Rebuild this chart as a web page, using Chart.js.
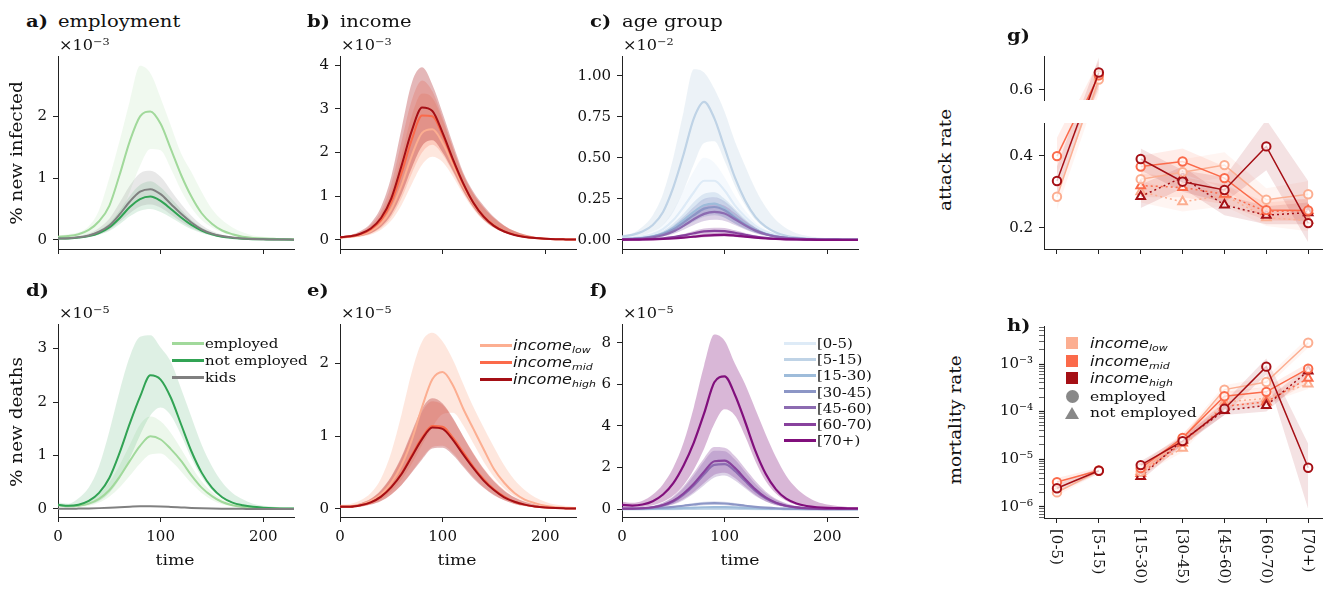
<!DOCTYPE html>
<html>
<head>
<meta charset="utf-8">
<script src="https://cdn.jsdelivr.net/npm/chart.js@4.4.0/dist/chart.umd.min.js"></script>
<style>
  body { margin: 0; width: 1325px; height: 589px; overflow: hidden; position: relative; background: #fff;
         font-family: 'DejaVu Serif', serif; color: #111; }
  canvas { position: absolute; }
  .t { position: absolute; white-space: nowrap; line-height: 1; }
  sup { font-size: 0.7em; vertical-align: 0.55em; line-height: 0; }
  sub { font-size: 0.68em; vertical-align: -0.3em; line-height: 0; }
  .sans { font-family: 'DejaVu Sans', sans-serif; font-style: italic; }
</style>
</head>
<body>
<script>
// ---- data ----
const TIME = [0,10,20,30,40,50,60,70,80,90,100,110,120,130,140,150,160,170,180,190,200,210,220,230];

// a) new infected by employment, x1e-3
const A_EMP     = [0.05,0.06,0.09,0.16,0.30,0.55, 1.05,1.60,2.00,2.08,1.88,1.47, 1.05,0.70,0.43,0.26,0.15,0.09, 0.05,0.03,0.02,0.015,0.01,0.01];
const A_EMP_HI  = [0.07,0.09,0.12,0.22,0.48,1.00, 1.60,2.25,2.82,2.70,2.30,1.85, 1.40,1.10,0.78,0.50,0.32,0.20, 0.12,0.07,0.05,0.03,0.02,0.015];
const A_EMP_LO  = [0.02,0.02,0.03,0.05,0.09,0.18, 0.37,0.78,1.20,1.47,1.45,1.15, 0.80,0.52,0.32,0.20,0.12,0.07, 0.05,0.03,0.02,0.01,0.01,0.005];
const A_NEMP    = [0.02,0.02,0.035,0.06,0.11,0.20, 0.35,0.53,0.66,0.70,0.63,0.50, 0.36,0.24,0.15,0.09,0.05,0.03, 0.018,0.01,0.007,0.004,0.003,0.002];
const A_NEMP_HI = [0.03,0.03,0.05,0.08,0.15,0.27, 0.47,0.71,0.89,0.95,0.85,0.68, 0.49,0.32,0.20,0.12,0.07,0.04, 0.025,0.014,0.009,0.005,0.004,0.003];
const A_NEMP_LO = [0.01,0.015,0.025,0.04,0.08,0.14, 0.25,0.38,0.47,0.50,0.45,0.36, 0.26,0.17,0.11,0.065,0.036,0.02, 0.013,0.007,0.005,0.003,0.002,0.001];
const A_KID     = [0.02,0.025,0.04,0.07,0.13,0.23, 0.41,0.62,0.78,0.82,0.74,0.58, 0.42,0.28,0.17,0.10,0.06,0.035, 0.02,0.012,0.008,0.005,0.003,0.002];
const A_KID_HI  = [0.03,0.035,0.06,0.10,0.19,0.34, 0.60,0.88,1.08,1.12,1.02,0.80, 0.58,0.39,0.24,0.14,0.08,0.05, 0.03,0.02,0.01,0.007,0.005,0.003];
const A_KID_LO  = [0.01,0.015,0.025,0.045,0.09,0.16, 0.29,0.43,0.54,0.57,0.52,0.41, 0.29,0.19,0.12,0.07,0.04,0.025, 0.015,0.008,0.005,0.003,0.002,0.001];

// b) new infected by income, x1e-3
const B_LOW     = [0.05,0.07,0.11,0.20,0.37,0.70, 1.25,1.93,2.45,2.53,2.22,1.72, 1.23,0.83,0.53,0.33,0.20,0.12, 0.07,0.04,0.025,0.015,0.01,0.006];
const B_LOW_HI  = [0.07,0.09,0.16,0.30,0.58,1.10, 1.95,2.85,3.35,3.25,2.75,2.10, 1.50,1.05,0.74,0.50,0.32,0.20, 0.12,0.07,0.04,0.025,0.015,0.01];
const B_LOW_LO  = [0.03,0.04,0.07,0.12,0.23,0.44, 0.80,1.28,1.72,1.90,1.78,1.45, 1.05,0.70,0.44,0.27,0.16,0.10, 0.06,0.035,0.02,0.012,0.008,0.005];
const B_MID     = [0.06,0.08,0.13,0.24,0.45,0.86, 1.53,2.30,2.85,2.83,2.40,1.82, 1.28,0.85,0.54,0.33,0.20,0.12, 0.07,0.04,0.025,0.015,0.01,0.006];
const B_MID_HI  = [0.08,0.10,0.18,0.34,0.66,1.28, 2.25,3.20,3.65,3.40,2.80,2.12, 1.50,1.06,0.74,0.50,0.32,0.20, 0.12,0.07,0.04,0.025,0.015,0.01];
const B_MID_LO  = [0.04,0.05,0.08,0.14,0.27,0.52, 0.95,1.52,2.00,2.18,1.95,1.55, 1.10,0.73,0.46,0.28,0.17,0.10, 0.06,0.035,0.02,0.012,0.008,0.005];
const B_HIGH    = [0.06,0.08,0.14,0.26,0.50,0.95, 1.70,2.50,3.03,2.95,2.45,1.85, 1.30,0.85,0.53,0.32,0.19,0.11, 0.065,0.04,0.025,0.015,0.01,0.006];
const B_HIGH_HI = [0.08,0.11,0.20,0.38,0.75,1.45, 2.55,3.60,3.95,3.55,2.90,2.20, 1.55,1.10,0.78,0.52,0.33,0.20, 0.12,0.07,0.04,0.025,0.015,0.01];
const B_HIGH_LO = [0.04,0.05,0.08,0.15,0.30,0.58, 1.05,1.65,2.15,2.28,2.00,1.58, 1.12,0.74,0.46,0.28,0.17,0.10, 0.06,0.035,0.02,0.012,0.008,0.005];

// c) new infected by age group, x1e-2
const C0    = [0.01,0.012,0.02,0.035,0.065,0.12, 0.20,0.29,0.36,0.36,0.30,0.21, 0.14,0.085,0.05,0.03,0.017,0.01, 0.006,0.004,0.002,0.001,0.001,0];
const C0_HI = [0.015,0.018,0.03,0.05,0.095,0.18, 0.30,0.42,0.50,0.47,0.38,0.27, 0.18,0.11,0.065,0.04,0.022,0.013, 0.008,0.005,0.003,0.002,0.001,0.001];
const C0_LO = [0.005,0.008,0.012,0.022,0.04,0.075, 0.13,0.19,0.24,0.26,0.22,0.16, 0.105,0.065,0.038,0.022,0.013,0.008, 0.005,0.003,0.002,0.001,0,0];
const C1    = [0.02,0.03,0.05,0.09,0.17,0.32, 0.52,0.74,0.84,0.74,0.56,0.38, 0.24,0.14,0.08,0.045,0.025,0.014, 0.008,0.005,0.003,0.002,0.001,0.001];
const C1_HI = [0.03,0.04,0.08,0.15,0.28,0.50, 0.78,1.04,1.02,0.92,0.78,0.60, 0.45,0.31,0.20,0.12,0.07,0.04, 0.025,0.015,0.009,0.005,0.003,0.002];
const C1_LO = [0.01,0.02,0.03,0.05,0.09,0.17, 0.30,0.46,0.59,0.60,0.48,0.33, 0.21,0.12,0.07,0.04,0.02,0.012, 0.007,0.004,0.002,0.001,0.001,0];
const C2    = [0.005,0.007,0.012,0.022,0.04,0.072, 0.12,0.17,0.21,0.22,0.19,0.14, 0.095,0.06,0.036,0.021,0.012,0.007, 0.004,0.002,0.001,0.001,0,0];
const C2_HI = [0.007,0.009,0.016,0.03,0.055,0.10, 0.16,0.23,0.28,0.29,0.25,0.19, 0.13,0.08,0.048,0.028,0.016,0.009, 0.005,0.003,0.002,0.001,0.001,0];
const C2_LO = [0.004,0.005,0.009,0.016,0.029,0.052, 0.086,0.12,0.15,0.16,0.135,0.10, 0.068,0.043,0.026,0.015,0.009,0.005, 0.003,0.002,0.001,0,0,0];
const C3    = [0.004,0.006,0.01,0.019,0.035,0.063, 0.105,0.15,0.19,0.20,0.18,0.135, 0.092,0.058,0.035,0.02,0.012,0.007, 0.004,0.002,0.001,0.001,0,0];
const C3_HI = [0.006,0.008,0.014,0.026,0.048,0.086, 0.14,0.20,0.25,0.26,0.235,0.18, 0.12,0.076,0.046,0.027,0.016,0.009, 0.005,0.003,0.002,0.001,0.001,0];
const C3_LO = [0.003,0.004,0.007,0.014,0.026,0.047, 0.078,0.11,0.14,0.15,0.135,0.10, 0.069,0.043,0.026,0.015,0.009,0.005, 0.003,0.002,0.001,0,0,0];
const C4    = [0.003,0.005,0.008,0.015,0.028,0.05, 0.085,0.125,0.158,0.17,0.16,0.125, 0.088,0.056,0.034,0.02,0.012,0.007, 0.004,0.002,0.001,0.001,0,0];
const C4_HI = [0.004,0.007,0.011,0.02,0.037,0.066, 0.11,0.165,0.205,0.222,0.208,0.163, 0.115,0.073,0.044,0.026,0.016,0.009, 0.005,0.003,0.002,0.001,0.001,0];
const C4_LO = [0.002,0.004,0.006,0.011,0.02,0.036, 0.061,0.09,0.114,0.122,0.115,0.09, 0.063,0.04,0.024,0.014,0.009,0.005, 0.003,0.002,0.001,0,0,0];
const C5    = [0.001,0.002,0.003,0.005,0.009,0.016, 0.027,0.04,0.051,0.055,0.053,0.043, 0.031,0.02,0.012,0.007,0.004,0.002, 0.001,0.001,0,0,0,0];
const C5_HI = [0.001,0.002,0.004,0.007,0.012,0.022, 0.036,0.054,0.069,0.074,0.072,0.058, 0.042,0.027,0.016,0.009,0.005,0.003, 0.002,0.001,0,0,0,0];
const C5_LO = [0.001,0.001,0.002,0.004,0.006,0.011, 0.019,0.028,0.036,0.039,0.037,0.03, 0.022,0.014,0.008,0.005,0.003,0.001, 0.001,0,0,0,0,0];
const C6    = [0.001,0.001,0.002,0.003,0.005,0.008, 0.013,0.019,0.025,0.029,0.03,0.026, 0.019,0.013,0.008,0.005,0.003,0.002, 0.001,0,0,0,0,0];
const C6_HI = [0.001,0.002,0.003,0.004,0.007,0.011, 0.018,0.027,0.035,0.041,0.042,0.036, 0.027,0.018,0.011,0.007,0.004,0.003, 0.001,0,0,0,0,0];
const C6_LO = [0.001,0.001,0.001,0.002,0.003,0.005, 0.008,0.012,0.016,0.019,0.02,0.017, 0.012,0.008,0.005,0.003,0.002,0.001, 0.001,0,0,0,0,0];

// d) new deaths by employment, x1e-5
const D_EMP     = [0.07,0.05,0.06,0.10,0.19,0.35, 0.60,0.90,1.18,1.36,1.30,1.12, 0.90,0.63,0.40,0.24,0.13,0.07, 0.04,0.022,0.013,0.008,0.005,0.004];
const D_EMP_HI  = [0.10,0.08,0.10,0.16,0.28,0.50, 0.82,1.20,1.58,1.73,1.64,1.42, 1.12,0.80,0.52,0.32,0.18,0.10, 0.06,0.035,0.02,0.012,0.008,0.006];
const D_EMP_LO  = [0.05,0.03,0.04,0.06,0.12,0.23, 0.40,0.62,0.85,1.02,1.04,0.90, 0.70,0.48,0.30,0.17,0.09,0.05, 0.03,0.016,0.01,0.006,0.004,0.003];
const D_NEMP    = [0.08,0.06,0.08,0.15,0.30,0.58, 1.05,1.60,2.10,2.50,2.42,2.08, 1.58,1.08,0.68,0.40,0.22,0.12, 0.07,0.04,0.025,0.015,0.01,0.01];
const D_NEMP_HI = [0.12,0.10,0.20,0.40,0.80,1.45, 2.20,2.85,3.22,3.25,3.02,2.75, 2.25,1.72,1.20,0.80,0.50,0.30, 0.18,0.10,0.06,0.04,0.025,0.015];
const D_NEMP_LO = [0.05,0.04,0.05,0.08,0.15,0.30, 0.56,0.95,1.38,1.75,1.90,1.75, 1.38,0.95,0.60,0.35,0.20,0.11, 0.06,0.035,0.02,0.012,0.008,0.005];
const D_KID     = [0.005,0.005,0.007,0.01,0.016,0.024, 0.034,0.043,0.05,0.05,0.046,0.038, 0.029,0.02,0.013,0.008,0.005,0.003, 0.002,0.001,0.001,0,0,0];

// e) new deaths by income, x1e-5
const E_LOW     = [0.03,0.04,0.06,0.11,0.20,0.36, 0.60,0.95,1.40,1.78,1.88,1.70, 1.38,1.10,0.82,0.55,0.36,0.22, 0.13,0.08,0.045,0.025,0.015,0.01];
const E_LOW_HI  = [0.06,0.07,0.12,0.22,0.42,0.78, 1.30,1.88,2.30,2.42,2.30,2.05, 1.72,1.40,1.12,0.85,0.60,0.40, 0.26,0.16,0.10,0.06,0.04,0.025];
const E_LOW_LO  = [0.02,0.03,0.04,0.07,0.13,0.24, 0.40,0.62,0.88,1.12,1.30,1.32, 1.15,0.90,0.65,0.44,0.28,0.17, 0.10,0.06,0.035,0.02,0.013,0.008];
const E_MID     = [0.03,0.03,0.05,0.09,0.17,0.30, 0.49,0.74,0.98,1.14,1.13,0.98, 0.78,0.58,0.41,0.27,0.17,0.10, 0.06,0.035,0.02,0.012,0.008,0.005];
const E_MID_HI  = [0.05,0.05,0.08,0.14,0.25,0.44, 0.70,1.03,1.34,1.48,1.43,1.24, 1.00,0.77,0.56,0.39,0.26,0.16, 0.10,0.06,0.035,0.02,0.013,0.008];
const E_MID_LO  = [0.02,0.02,0.03,0.06,0.11,0.20, 0.33,0.51,0.70,0.85,0.87,0.77, 0.60,0.44,0.30,0.20,0.12,0.07, 0.04,0.025,0.015,0.009,0.005,0.003];
const E_HIGH    = [0.03,0.03,0.05,0.09,0.17,0.30, 0.48,0.72,0.96,1.12,1.10,0.95, 0.75,0.56,0.39,0.26,0.16,0.10, 0.06,0.035,0.02,0.012,0.008,0.005];
const E_HIGH_HI = [0.05,0.05,0.08,0.14,0.26,0.45, 0.72,1.06,1.38,1.52,1.45,1.25, 1.00,0.76,0.55,0.38,0.25,0.16, 0.10,0.06,0.035,0.02,0.013,0.008];
const E_HIGH_LO = [0.02,0.02,0.03,0.06,0.11,0.20, 0.33,0.50,0.68,0.83,0.84,0.74, 0.58,0.42,0.29,0.19,0.12,0.07, 0.04,0.025,0.015,0.009,0.005,0.003];

// f) new deaths by age group, x1e-5
const F0    = [0.001,0.001,0.001,0.002,0.002,0.003, 0.004,0.005,0.006,0.006,0.006,0.005, 0.004,0.003,0.002,0.002,0.001,0.001, 0.001,0,0,0,0,0];
const F1    = [0.002,0.002,0.003,0.004,0.006,0.008, 0.011,0.015,0.018,0.02,0.019,0.016, 0.012,0.009,0.006,0.004,0.003,0.002, 0.001,0.001,0,0,0,0];
const F2    = [0.005,0.005,0.008,0.013,0.022,0.035, 0.052,0.07,0.088,0.098,0.095,0.08, 0.06,0.042,0.027,0.017,0.01,0.006, 0.003,0.002,0.001,0.001,0,0];
const F3    = [0.01,0.01,0.02,0.04,0.07,0.11, 0.16,0.22,0.27,0.29,0.27,0.22, 0.16,0.11,0.07,0.04,0.025,0.015, 0.01,0.005,0.003,0.002,0.001,0.001];
const F3_HI = [0.015,0.015,0.03,0.055,0.09,0.14, 0.21,0.29,0.35,0.38,0.35,0.29, 0.21,0.14,0.09,0.055,0.033,0.02, 0.013,0.007,0.004,0.003,0.002,0.001];
const F3_LO = [0.007,0.007,0.014,0.028,0.05,0.077, 0.11,0.15,0.19,0.2,0.19,0.15, 0.11,0.077,0.05,0.028,0.018,0.01, 0.007,0.004,0.002,0.001,0.001,0];
const F4    = [0.02,0.02,0.04,0.08,0.18,0.37, 0.70,1.14,1.68,2.13,2.16,1.84, 1.35,0.88,0.52,0.29,0.15,0.08, 0.04,0.02,0.01,0.01,0.005,0.005];
const F4_HI = [0.04,0.04,0.06,0.13,0.29,0.57, 1.02,1.62,2.30,2.80,2.78,2.38, 1.80,1.22,0.76,0.45,0.25,0.13, 0.07,0.035,0.018,0.012,0.008,0.008];
const F4_LO = [0.01,0.01,0.02,0.04,0.10,0.22, 0.43,0.75,1.15,1.52,1.62,1.38, 1.00,0.63,0.36,0.19,0.10,0.05, 0.025,0.012,0.006,0.004,0.003,0.002];
const F5    = [0.02,0.02,0.04,0.09,0.20,0.40, 0.75,1.22,1.80,2.30,2.33,1.98, 1.45,0.95,0.56,0.31,0.16,0.08, 0.04,0.02,0.01,0.01,0.005,0.005];
const F5_HI = [0.04,0.04,0.07,0.15,0.32,0.62, 1.10,1.75,2.45,2.98,2.95,2.55, 1.95,1.35,0.85,0.50,0.28,0.15, 0.08,0.04,0.02,0.015,0.01,0.01];
const F5_LO = [0.01,0.01,0.02,0.05,0.12,0.25, 0.48,0.82,1.25,1.65,1.75,1.50, 1.08,0.68,0.38,0.20,0.10,0.05, 0.025,0.012,0.006,0.004,0.003,0.002];
const F6    = [0.20,0.17,0.22,0.38,0.70,1.25, 2.10,3.20,4.60,6.10,6.38,5.50, 4.20,2.80,1.70,0.95,0.50,0.27, 0.15,0.09,0.06,0.05,0.04,0.04];
const F6_HI = [0.35,0.30,0.40,0.70,1.20,2.00, 3.20,4.90,6.90,8.40,8.10,7.00, 6.00,4.80,3.60,2.50,1.60,1.00, 0.60,0.35,0.22,0.15,0.10,0.08];
const F6_LO = [0.10,0.08,0.10,0.18,0.35,0.65, 1.15,1.90,2.90,4.10,4.80,4.50, 3.50,2.30,1.35,0.75,0.40,0.20, 0.10,0.06,0.04,0.03,0.02,0.02];

// g) attack rate / h) mortality rate per age group
const AGE_LABELS = ['[0-5)', '[5-15)', '[15-30)', '[30-45)', '[45-60)', '[60-70)', '[70+)'];
const CAT_POS = [0, 1, 2, 3, 4, 5, 6];

const G_EMP_LOW      = [0.286, 0.628, 0.335, 0.354, 0.374, 0.278, 0.293];
const G_EMP_LOW_HI   = [0.32, 0.66, 0.37, 0.39, 0.41, 0.31, 0.33];
const G_EMP_LOW_LO   = [0.25, 0.59, 0.30, 0.32, 0.34, 0.25, 0.26];
const G_EMP_MID      = [0.399, 0.640, 0.370, 0.384, 0.338, 0.249, 0.248];
const G_EMP_MID_HI   = [0.45, 0.68, 0.40, 0.42, 0.37, 0.28, 0.28];
const G_EMP_MID_LO   = [0.35, 0.60, 0.34, 0.35, 0.31, 0.22, 0.22];
const G_EMP_HIGH     = [0.330, 0.648, 0.391, 0.328, 0.305, 0.426, 0.213];
const G_EMP_HIGH_HI  = [0.37, 0.69, 0.42, 0.36, 0.34, 0.50, 0.33];
const G_EMP_HIGH_LO  = [0.29, 0.61, 0.36, 0.30, 0.27, 0.36, 0.16];
const G_NEMP_LOW     = [null, null, 0.300, 0.272, 0.290, 0.228, 0.220];
const G_NEMP_LOW_HI  = [null, null, 0.33, 0.30, 0.32, 0.25, 0.25];
const G_NEMP_LOW_LO  = [null, null, 0.27, 0.245, 0.26, 0.205, 0.19];
const G_NEMP_MID     = [null, null, 0.317, 0.312, 0.293, 0.245, 0.248];
const G_NEMP_MID_HI  = [null, null, 0.35, 0.34, 0.32, 0.27, 0.28];
const G_NEMP_MID_LO  = [null, null, 0.285, 0.285, 0.265, 0.22, 0.22];
const G_NEMP_HIGH    = [null, null, 0.287, 0.340, 0.263, 0.235, 0.242];
const G_NEMP_HIGH_HI = [null, null, 0.32, 0.37, 0.29, 0.26, 0.27];
const G_NEMP_HIGH_LO = [null, null, 0.255, 0.31, 0.235, 0.21, 0.21];

const H_EMP_LOW      = [2.0e-6, 5.7e-6, 5.5e-6, 2.7e-5, 2.9e-4, 4.2e-4, 2.8e-3];
const H_EMP_LOW_HI   = [2.4e-6, 6.5e-6, 6.8e-6, 3.3e-5, 3.6e-4, 5.3e-4, 3.6e-3];
const H_EMP_LOW_LO   = [1.7e-6, 5.0e-6, 4.5e-6, 2.2e-5, 2.3e-4, 3.3e-4, 2.2e-3];
const H_EMP_MID      = [3.3e-6, 5.8e-6, 6.5e-6, 2.8e-5, 2.1e-4, 2.6e-4, 8.0e-4];
const H_EMP_MID_HI   = [4.0e-6, 6.6e-6, 8.0e-6, 3.4e-5, 2.6e-4, 3.3e-4, 1.05e-3];
const H_EMP_MID_LO   = [2.7e-6, 5.1e-6, 5.3e-6, 2.3e-5, 1.7e-4, 2.0e-4, 6.0e-4];
const H_EMP_HIGH     = [2.45e-6, 5.7e-6, 7.5e-6, 2.4e-5, 1.15e-4, 8.8e-4, 6.6e-6];
const H_EMP_HIGH_HI  = [3.0e-6, 6.5e-6, 9.0e-6, 3.0e-5, 1.6e-4, 1.3e-3, 2.1e-5];
const H_EMP_HIGH_LO  = [2.0e-6, 5.0e-6, 6.0e-6, 1.9e-5, 8.5e-5, 6.0e-4, 9.0e-7];
const H_NEMP_LOW     = [null, null, 5.5e-6, 1.7e-5, 1.6e-4, 1.9e-4, 3.8e-4];
const H_NEMP_LOW_HI  = [null, null, 6.5e-6, 2.1e-5, 2.0e-4, 2.4e-4, 4.8e-4];
const H_NEMP_LOW_LO  = [null, null, 4.6e-6, 1.4e-5, 1.3e-4, 1.5e-4, 3.0e-4];
const H_NEMP_MID     = [null, null, 5.0e-6, 2.2e-5, 1.3e-4, 1.6e-4, 5.0e-4];
const H_NEMP_MID_HI  = [null, null, 6.0e-6, 2.7e-5, 1.6e-4, 2.0e-4, 6.3e-4];
const H_NEMP_MID_LO  = [null, null, 4.1e-6, 1.8e-5, 1.05e-4, 1.3e-4, 4.0e-4];
const H_NEMP_HIGH    = [null, null, 4.3e-6, 2.5e-5, 1.05e-4, 1.35e-4, 7.1e-4];
const H_NEMP_HIGH_HI = [null, null, 5.3e-6, 3.1e-5, 1.3e-4, 1.8e-4, 9.0e-4];
const H_NEMP_HIGH_LO = [null, null, 3.5e-6, 2.0e-5, 8.5e-5, 1.0e-4, 5.6e-4];

// tick labels
const T_TICKS = [0, 100, 200];
const A_TICKS = [0, 1, 2];
const B_TICKS = [0, 1, 2, 3, 4];
const C_TICKS = [0, 0.25, 0.5, 0.75, 1.0];
const D_TICKS = [0, 1, 2, 3];
const E_TICKS = [0, 1, 2];
const F_TICKS = [0, 2, 4, 6, 8];
const G_UP_TICKS = [0.6];
const G_LO_TICKS = [0.2, 0.4];
const H_DECADES = [-6, -5, -4, -3];

// colours
const GREEN_LIGHT = '#a1d99b', GREEN = '#31a354', GREY = '#808080';
const INC = ['#fcae91', '#fb6a4a', '#a50f15'];
const AGE_COLORS = ['#deebf7', '#bfd3e6', '#9ebcda', '#8c96c6', '#8c6bb1', '#88419d', '#810f7c'];

// ---- helpers ----
Chart.defaults.font.family = "'DejaVu Serif', serif";
Chart.defaults.color = '#111';
const SX = 1.15;
const YW = 60, PT = 14, PR = 12, XH = 40;

function rgba(hex, a) {
  const n = parseInt(hex.slice(1), 16);
  return `rgba(${n >> 16},${(n >> 8) & 255},${n & 255},${a})`;
}

function txt(html, x, y, size, o = {}) {
  const d = document.createElement('div');
  d.className = 't' + (o.cls ? ' ' + o.cls : '');
  d.innerHTML = html;
  d.style.left = x + 'px';
  d.style.top = y + 'px';
  d.style.fontSize = size + 'px';
  if (o.bold) d.style.fontWeight = 'bold';
  if (o.rot) {
    d.style.transformOrigin = 'center';
    d.style.transform = `translate(-50%,-50%) rotate(-90deg) scaleX(${SX})`;
  } else if (o.center) {
    d.style.transformOrigin = 'center';
    d.style.transform = `translate(-50%,-50%) scaleX(${SX})`;
  } else {
    d.style.transformOrigin = 'left center';
    d.style.transform = `translateY(-50%) scaleX(${SX})`;
  }
  document.body.appendChild(d);
  return d;
}

function lineKey(x, y, color, label, size, cls) {
  const h = document.createElement('div');
  h.style.cssText = `position:absolute;left:${x}px;top:${y - 1.5}px;width:32px;height:3px;background:${color}`;
  document.body.appendChild(h);
  txt(label, x + 33, y, size, { cls });
}

function scale(min, max, ticks, fmt, showLabels, extra) {
  return Object.assign({
    type: 'linear', min, max,
    afterBuildTicks: s => { s.ticks = ticks.map(v => ({ value: v })); },
    ticks: { display: showLabels, callback: fmt, font: { size: 15 }, color: '#111', padding: 6, autoSkip: false, maxRotation: 0 },
    grid: { drawOnChartArea: false, drawTicks: true, tickLength: 5, color: '#222' },
    border: { display: true, color: '#222', width: 1 }
  }, extra || {});
}

function panel(box, x, y, datasets, showX = true) {
  const c = document.createElement('canvas');
  const w = box.r - box.l + YW + PR, h = box.b - box.t + PT + XH;
  c.width = w; c.height = h;
  c.style.left = (box.l - YW) + 'px';
  c.style.top = (box.t - PT) + 'px';
  document.body.appendChild(c);
  y.afterFit = s => { s.width = YW; };
  if (showX) x.afterFit = s => { s.height = XH; };
  else x.display = false;
  const chart = new Chart(c, {
    type: 'line',
    data: { datasets },
    options: {
      responsive: false, animation: false, devicePixelRatio: 1,
      layout: { padding: { top: PT, right: PR, left: 0, bottom: showX ? 0 : XH } },
      plugins: { legend: { display: false }, tooltip: { enabled: false } },
      scales: { x, y }
    }
  });
  chart.$left = box.l - YW;
  chart.$top = box.t - PT;
  return chart;
}

function timeSet(arr, o) {
  return Object.assign({
    data: TIME.map((t, i) => ({ x: t, y: arr[i] })),
    borderWidth: 0, borderColor: 'rgba(0,0,0,0)', pointRadius: 0, fill: false,
    cubicInterpolationMode: 'monotone'
  }, o);
}

// list = [{y, hi, lo, color, alpha, w}] drawn bottom to top
function timeSets(list) {
  const bands = [], lines = [];
  list.forEach((s, i) => {
    if (s.hi) {
      bands.push(timeSet(s.hi, { fill: '+1', backgroundColor: rgba(s.color, s.alpha), order: 100 - i }));
      bands.push(timeSet(s.lo, { order: 100 - i }));
    }
    lines.push(timeSet(s.y, { borderColor: s.color, borderWidth: s.w || 2, order: 50 - i }));
  });
  return bands.concat(lines);
}

const noGap = c => (c.p0DataIndex === 1 ? 'rgba(0,0,0,0)' : undefined);

function catSet(arr, o) {
  return Object.assign({
    data: CAT_POS.map((p, i) => ({ x: p, y: arr[i] })),
    borderWidth: 0, borderColor: 'rgba(0,0,0,0)', pointRadius: 0, fill: false, spanGaps: false,
    segment: { borderColor: noGap, backgroundColor: noGap }
  }, o);
}

// list = [{y, hi, lo, color, tri}]
function catSets(list) {
  const bands = [], lines = [];
  list.forEach((s, i) => {
    bands.push(catSet(s.hi, { fill: '+1', backgroundColor: rgba(s.color, 0.12), order: 100 - i }));
    bands.push(catSet(s.lo, { order: 100 - i }));
    lines.push(catSet(s.y, {
      borderColor: s.color, borderWidth: 1.5, borderDash: s.tri ? [2, 3] : [],
      pointStyle: s.tri ? 'triangle' : 'circle', pointRadius: s.tri ? 5 : 4.2,
      pointBorderWidth: 2, pointBorderColor: s.color, pointBackgroundColor: 'rgba(255,255,255,0.75)',
      order: 50 - i
    }));
  });
  return bands.concat(lines);
}

const f0 = v => String(v);
const f1 = v => v.toFixed(1);
const f2 = v => v.toFixed(2);
const SUP = { '-': '\u207B', '0': '\u2070', '1': '\u00B9', '2': '\u00B2', '3': '\u00B3', '4': '\u2074', '5': '\u2075', '6': '\u2076', '7': '\u2077', '8': '\u2078', '9': '\u2079' };
const sup = n => String(n).split('').map(ch => SUP[ch]).join('');

// ---- time panels ----
const timeX = (labels) => scale(0, 230, T_TICKS, f0, labels);

panel({ l: 58, t: 55, r: 294, b: 249 }, timeX(false), scale(-0.15, 2.98, A_TICKS, f0, true), timeSets([
  { y: A_EMP, hi: A_EMP_HI, lo: A_EMP_LO, color: GREEN_LIGHT, alpha: 0.16 },
  { y: A_NEMP, hi: A_NEMP_HI, lo: A_NEMP_LO, color: GREEN, alpha: 0.15 },
  { y: A_KID, hi: A_KID_HI, lo: A_KID_LO, color: GREY, alpha: 0.18 }
]));

panel({ l: 340, t: 55, r: 576, b: 249 }, timeX(false), scale(-0.21, 4.21, B_TICKS, f0, true), timeSets([
  { y: B_LOW, hi: B_LOW_HI, lo: B_LOW_LO, color: INC[0], alpha: 0.3 },
  { y: B_MID, hi: B_MID_HI, lo: B_MID_LO, color: INC[1], alpha: 0.22 },
  { y: B_HIGH, hi: B_HIGH_HI, lo: B_HIGH_LO, color: INC[2], alpha: 0.3 }
]));

const C_SER = [[C0, C0_HI, C0_LO], [C1, C1_HI, C1_LO], [C2, C2_HI, C2_LO], [C3, C3_HI, C3_LO],
               [C4, C4_HI, C4_LO], [C5, C5_HI, C5_LO], [C6, C6_HI, C6_LO]];
panel({ l: 622, t: 55, r: 858, b: 249 }, timeX(false), scale(-0.056, 1.12, C_TICKS, f2, true),
  timeSets(C_SER.map((s, i) => ({ y: s[0], hi: s[1], lo: s[2], color: AGE_COLORS[i], alpha: 0.3, w: 2.2 }))));

panel({ l: 58, t: 323, r: 294, b: 517 }, timeX(true), scale(-0.15, 3.46, D_TICKS, f0, true), timeSets([
  { y: D_EMP, hi: D_EMP_HI, lo: D_EMP_LO, color: GREEN_LIGHT, alpha: 0.2 },
  { y: D_NEMP, hi: D_NEMP_HI, lo: D_NEMP_LO, color: GREEN, alpha: 0.16 },
  { y: D_KID, color: GREY }
]));

panel({ l: 340, t: 323, r: 576, b: 517 }, timeX(true), scale(-0.11, 2.54, E_TICKS, f0, true), timeSets([
  { y: E_LOW, hi: E_LOW_HI, lo: E_LOW_LO, color: INC[0], alpha: 0.3 },
  { y: E_MID, hi: E_MID_HI, lo: E_MID_LO, color: INC[1], alpha: 0.22 },
  { y: E_HIGH, hi: E_HIGH_HI, lo: E_HIGH_LO, color: INC[2], alpha: 0.3 }
]));

const F_SER = [[F0], [F1], [F2], [F3, F3_HI, F3_LO], [F4, F4_HI, F4_LO], [F5, F5_HI, F5_LO], [F6, F6_HI, F6_LO]];
panel({ l: 622, t: 323, r: 858, b: 517 }, timeX(true), scale(-0.38, 8.9, F_TICKS, f0, true),
  timeSets(F_SER.map((s, i) => ({ y: s[0], hi: s[1], lo: s[2], color: AGE_COLORS[i], alpha: 0.3, w: 2.2 }))));

// ---- g) attack rate (broken axis) ----
const catX = () => scale(-0.31, 6.33, CAT_POS, () => '', false);
const gList = () => catSets([
  { y: G_NEMP_LOW, hi: G_NEMP_LOW_HI, lo: G_NEMP_LOW_LO, color: INC[0], tri: true },
  { y: G_NEMP_MID, hi: G_NEMP_MID_HI, lo: G_NEMP_MID_LO, color: INC[1], tri: true },
  { y: G_NEMP_HIGH, hi: G_NEMP_HIGH_HI, lo: G_NEMP_HIGH_LO, color: INC[2], tri: true },
  { y: G_EMP_LOW, hi: G_EMP_LOW_HI, lo: G_EMP_LOW_LO, color: INC[0] },
  { y: G_EMP_MID, hi: G_EMP_MID_HI, lo: G_EMP_MID_LO, color: INC[1] },
  { y: G_EMP_HIGH, hi: G_EMP_HIGH_HI, lo: G_EMP_HIGH_LO, color: INC[2] }
]);
panel({ l: 1044, t: 55, r: 1322, b: 100 }, catX(), scale(0.571, 0.694, G_UP_TICKS, f1, true), gList(), false);
panel({ l: 1044, t: 122, r: 1322, b: 249 }, catX(), scale(0.141, 0.491, G_LO_TICKS, f1, true), gList());

// ---- h) mortality rate (log) ----
const H_MIN = 5.8e-7, H_MAX = 6.3e-3;
const hTicks = [];
for (let e = -7; e <= -3; e++) {
  for (let m = 1; m <= 9; m++) {
    const v = m * Math.pow(10, e);
    if (v >= H_MIN && v <= H_MAX) hTicks.push({ value: v, major: m === 1 });
  }
}
const isDecade = v => Math.abs(Math.log10(v) - Math.round(Math.log10(v))) < 1e-6;
const hY = scale(H_MIN, H_MAX, [], v => (isDecade(v) && H_DECADES.includes(Math.round(Math.log10(v))) ? '10' + sup(Math.round(Math.log10(v))) : ''), true, {
  type: 'logarithmic',
  afterBuildTicks: s => { s.ticks = hTicks.map(t => ({ value: t.value, major: t.major })); },
});
hY.grid = { drawOnChartArea: false, drawTicks: true, tickLength: 5, color: '#222',
            tickWidth: c => (c.tick && isDecade(c.tick.value) ? 1.2 : 0.7) };
hY.ticks.font = { size: 15 };
const hChart = panel({ l: 1044, t: 325, r: 1322, b: 518 }, catX(), hY, catSets([
  { y: H_NEMP_LOW, hi: H_NEMP_LOW_HI, lo: H_NEMP_LOW_LO, color: INC[0], tri: true },
  { y: H_NEMP_MID, hi: H_NEMP_MID_HI, lo: H_NEMP_MID_LO, color: INC[1], tri: true },
  { y: H_NEMP_HIGH, hi: H_NEMP_HIGH_HI, lo: H_NEMP_HIGH_LO, color: INC[2], tri: true },
  { y: H_EMP_LOW, hi: H_EMP_LOW_HI, lo: H_EMP_LOW_LO, color: INC[0] },
  { y: H_EMP_MID, hi: H_EMP_MID_HI, lo: H_EMP_MID_LO, color: INC[1] },
  { y: H_EMP_HIGH, hi: H_EMP_HIGH_HI, lo: H_EMP_HIGH_LO, color: INC[2] }
]));

// rotated category labels under h
AGE_LABELS.forEach((lab, i) => {
  const d = document.createElement('div');
  d.className = 't';
  d.textContent = lab;
  d.style.cssText += `writing-mode:vertical-rl;font-size:15px;top:529px;left:${hChart.$left + hChart.scales.x.getPixelForValue(CAT_POS[i])}px;transform:translateX(-50%)`;
  document.body.appendChild(d);
});

// ---- text ----
[['a)', 'employment', 26, 58, 21], ['b)', 'income', 307, 340, 21], ['c)', 'age group', 590, 622, 21],
 ['d)', '', 26, 0, 290], ['e)', '', 307, 0, 290], ['f)', '', 590, 0, 290],
 ['g)', '', 1007, 0, 35], ['h)', '', 1007, 0, 325]].forEach(([k, title, kx, tx, y]) => {
  txt(k, kx, y, 17, { bold: true });
  if (title) txt(title, tx, y, 17);
});
[[59, 45, -3], [341, 45, -3], [623, 45, -2], [59, 313, -5], [341, 313, -5], [623, 313, -5]].forEach(([x, y, e]) => {
  txt(`×10<sup>\u2212${-e}</sup>`, x, y, 14);
});
txt('% new infected', 17, 153, 16, { rot: true });
txt('% new deaths', 17, 422, 16, { rot: true });
txt('attack rate', 946, 160, 16, { rot: true });
txt('mortality rate', 956, 420, 16, { rot: true });
[175, 457, 740].forEach(x => txt('time', x, 560, 15, { center: true }));

// legends
lineKey(172, 343, GREEN_LIGHT, 'employed', 13);
lineKey(172, 360, GREEN, 'not employed', 13);
lineKey(172, 377, GREY, 'kids', 13);
['low', 'mid', 'high'].forEach((k, i) => lineKey(480, 345 + i * 17, INC[i], `income<sub>${k}</sub>`, 14, 'sans'));
AGE_LABELS.forEach((lab, i) => lineKey(784, 343 + i * 16.2, AGE_COLORS[i], lab, 13));

['low', 'mid', 'high'].forEach((k, i) => {
  const y = 343 + i * 17.5;
  const sq = document.createElement('div');
  sq.style.cssText = `position:absolute;left:1066px;top:${y - 6}px;width:12px;height:12px;background:${INC[i]}`;
  document.body.appendChild(sq);
  txt(`income<sub>${k}</sub>`, 1090, y, 14, { cls: 'sans' });
});
const circ = document.createElement('div');
circ.style.cssText = 'position:absolute;left:1066px;top:390px;width:13px;height:13px;border-radius:50%;background:#888';
document.body.appendChild(circ);
txt('employed', 1090, 397, 13.5);
const tri = document.createElement('div');
tri.style.cssText = 'position:absolute;left:1065px;top:407px;width:0;height:0;border-left:7px solid transparent;border-right:7px solid transparent;border-bottom:12px solid #888';
document.body.appendChild(tri);
txt('not employed', 1090, 413, 13.5);
</script>
</body>
</html>
